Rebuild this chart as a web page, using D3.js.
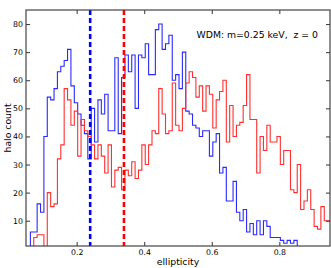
<!DOCTYPE html>
<html>
<head>
<meta charset="utf-8">
<script src="https://cdn.jsdelivr.net/npm/d3@7"></script>
<style>
  body { margin: 0; background: #fff; }
  text { font-family: "DejaVu Sans", sans-serif; fill: #000; }
</style>
</head>
<body>
<script>
// histogram bins: left edge of the first bin and bin width (ellipticity)
var binStart = 0.063;
var binWidth = 0.01;

// halo counts per bin
var blueCounts = [6, 6, 16, 13, 40, 54, 53, 57, 63, 65,
    67, 71, 58, 52, 48, 44, 41, 32, 50, 38,
    53, 48, 55, 42, 42, 68, 41, 61, 69, 63,
    69, 50, 69, 68, 73, 62, 62, 78, 80, 71,
    73, 76, 60, 62, 57, 70, 49, 48, 44, 43,
    40, 42, 42, 33, 38, 41, 27, 29, 17, 17,
    24, 13, 10, 14, 6, 9, 5, 10, 5, 10,
    8, 4, 4, 4, 3, 2, 3, 2, 3];
var redCounts = [0, 4, 5, 5, 0, 20, 15, 16, 32, 37,
    57, 53, 44, 49, 33, 46, 42, 40, 37, 32,
    37, 33, 27, 37, 22, 28, 29, 21, 28, 26,
    31, 25, 28, 37, 30, 37, 42, 41, 57, 48,
    41, 42, 59, 44, 42, 50, 59, 63, 61, 54,
    58, 49, 58, 55, 43, 53, 56, 60, 38, 51,
    40, 44, 45, 51, 62, 46, 46, 27, 40, 35,
    44, 38, 38, 40, 30, 35, 35, 21, 20, 30,
    14, 17, 21, 14, 8, 7, 15, 10, 10];

// median lines
var blueMedian = 0.24;
var redMedian = 0.34;

var xTicks = [0.2, 0.4, 0.6, 0.8];
var yTicks = [10, 20, 30, 40, 50, 60, 70, 80];
var label = "WDM: m=0.25 keV,  z = 0";

let outerWidth = 331;
let outerHeight = 268;
let margin = {top: 10, right: 1, bottom: 22, left: 26};
let width = outerWidth - margin.left - margin.right;
let height = outerHeight - margin.top - margin.bottom;

let blueColor = "#2a2aff";
let redColor = "#ff3030";

let svg = d3.select("body")
    .append("svg")
    .attr("width", outerWidth)
    .attr("height", outerHeight)
.append("g")
    .attr("transform", "translate(" + margin.left + "," + margin.top + ")");

let xScale = d3.scaleLinear().domain([0.05, 0.95]).range([0, width]);
let yScale = d3.scaleLinear().domain([1, 85]).range([height, 0]);

svg.append("clipPath")
    .attr("id", "plotClip")
  .append("rect")
    .attr("width", width)
    .attr("height", height);

// turn counts into step outline points
function stepPoints(counts) {
    let pts = [[binStart, 0]];
    counts.forEach(function(c, i) {
        let left = binStart + i * binWidth;
        pts.push([left, c]);
        pts.push([left + binWidth, c]);
    });
    pts.push([binStart + counts.length * binWidth, 0]);
    return pts;
}

let stepLine = d3.line()
    .x(function(d) { return xScale(d[0]); })
    .y(function(d) { return yScale(d[1]); });

let plot = svg.append("g").attr("clip-path", "url(#plotClip)");

plot.append("path")
    .attr("d", stepLine(stepPoints(blueCounts)))
    .attr("fill", "none")
    .attr("stroke", blueColor)
    .attr("stroke-width", 1.1);

plot.append("path")
    .attr("d", stepLine(stepPoints(redCounts)))
    .attr("fill", "none")
    .attr("stroke", redColor)
    .attr("stroke-width", 1.1);

// dashed median lines
[[blueMedian, "#0000ff"], [redMedian, "#ff0000"]].forEach(function(m) {
    plot.append("line")
        .attr("x1", xScale(m[0]))
        .attr("x2", xScale(m[0]))
        .attr("y1", 0)
        .attr("y2", height)
        .attr("stroke", m[1])
        .attr("stroke-width", 2.6)
        .attr("stroke-dasharray", "5,3");
});

// axes with inward ticks on all four sides
let tickLen = 4;
svg.append("g")
    .attr("transform", "translate(0," + height + ")")
    .call(d3.axisBottom(xScale).tickValues(xTicks).tickSizeInner(-tickLen).tickSizeOuter(0).tickPadding(3).tickFormat(d3.format(".1f")));
svg.append("g")
    .call(d3.axisTop(xScale).tickValues(xTicks).tickSizeInner(-tickLen).tickSizeOuter(0).tickFormat(""));
svg.append("g")
    .call(d3.axisLeft(yScale).tickValues(yTicks).tickSizeInner(-tickLen).tickSizeOuter(0).tickPadding(3));
svg.append("g")
    .attr("transform", "translate(" + width + ",0)")
    .call(d3.axisRight(yScale).tickValues(yTicks).tickSizeInner(-tickLen).tickSizeOuter(0).tickFormat(""));

svg.selectAll(".tick line").attr("stroke", "#333");
svg.selectAll(".domain").remove();
svg.selectAll(".tick text")
    .style("font-family", "DejaVu Sans, sans-serif")
    .style("font-size", "7.8px")
    .attr("fill", "#000");

// frame
svg.append("rect")
    .attr("width", width)
    .attr("height", height)
    .attr("fill", "none")
    .attr("stroke", "#444")
    .attr("stroke-width", 1.2);

svg.append("text")
    .attr("x", width / 2)
    .attr("y", height + 19)
    .style("text-anchor", "middle")
    .style("font-size", "9.3px")
    .text("ellipticity");

svg.append("text")
    .attr("transform", "rotate(-90)")
    .attr("x", -height / 2)
    .attr("y", -15)
    .style("text-anchor", "middle")
    .style("font-size", "9.3px")
    .text("halo count");

svg.append("text")
    .attr("x", xScale(0.555))
    .attr("y", 27.5)
    .style("font-size", "9.3px")
    .style("white-space", "pre")
    .text(label);
</script>
</body>
</html>
